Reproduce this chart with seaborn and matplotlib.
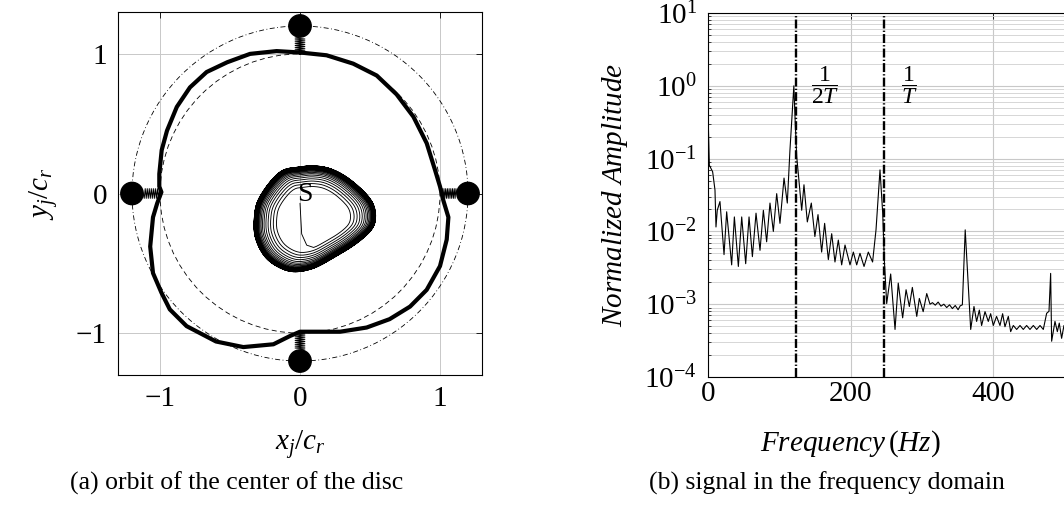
import numpy as np
import pandas as pd
import matplotlib
matplotlib.use("Agg")
import matplotlib.pyplot as plt
import seaborn as sns
from matplotlib.patches import Circle
from matplotlib.ticker import LogLocator, NullFormatter

# ---------------- data: (a) orbit ----------------
orbit_x = [0.0, -0.167, -0.357, -0.52, -0.667, -0.786, -0.88, -0.95, -0.988, -1.005,
           -1.005, -0.99, -1.02, -1.05, -1.07, -1.05, -0.99, -0.93, -0.81, -0.6,
           -0.405, -0.19, -0.07, 0.0, 0.095, 0.286, 0.476, 0.64, 0.786, 0.905,
           1.0, 1.048, 1.06, 1.024, 1.0, 0.964, 0.905, 0.81, 0.69, 0.548,
           0.38, 0.19, 0.0]
orbit_y = [1.01, 1.02, 1.0, 0.94, 0.87, 0.76, 0.62, 0.45, 0.31, 0.14,
           0.05, 0.01, -0.07, -0.17, -0.38, -0.57, -0.71, -0.83, -0.95, -1.06,
           -1.10, -1.08, -1.02, -0.99, -0.99, -0.99, -0.96, -0.90, -0.81, -0.69,
           -0.52, -0.33, -0.17, -0.05, 0.05, 0.17, 0.36, 0.55, 0.71, 0.845,
           0.93, 0.99, 1.01]

# limit cycle of the small orbit (outer contour)
cycle_x = [0.095, 0.24, 0.40, 0.51, 0.54, 0.52, 0.45, 0.33, 0.21, 0.095,
           0.0, -0.12, -0.214, -0.30, -0.326, -0.32, -0.26, -0.167, -0.048]
cycle_y = [-0.536, -0.46, -0.36, -0.26, -0.17, -0.07, 0.02, 0.12, 0.18, 0.198,
           0.19, 0.167, 0.083, -0.05, -0.17, -0.31, -0.44, -0.52, -0.56]
cycle_center = [0.1, -0.18]
ring_scales = [0.58, 0.64, 0.69, 0.735, 0.775, 0.81, 0.84, 0.865, 0.888, 0.908,
               0.925, 0.94, 0.952, 0.962, 0.97, 0.977, 0.983, 0.988, 0.992, 0.995,
               0.997, 0.999, 1.0]
start_x = [0.0, 0.012, 0.048]
start_y = [-0.07, -0.29, -0.37]

outer_radius = 1.2
clearance_radius = 1.0
ball_x = [0.0, 0.0, -1.2, 1.2]
ball_y = [1.2, -1.2, 0.0, 0.0]
ball_r = 0.08
spring_start = [(0.0, 1.12), (0.0, -1.12), (-1.12, 0.0), (1.12, 0.0)]
spring_end = [(0.0, 1.0), (0.0, -1.0), (-0.99, 0.0), (1.01, 0.0)]

# ---------------- data: (b) spectrum ----------------
freq = [0, 1.9, 6.5, 9.8, 11.2, 13.0, 16.8, 22.5, 26.2, 33.2,
        37.0, 42.6, 47.3, 52.9, 57.6, 62.3, 67.4, 73.0, 77.7, 82.3,
        87.0, 91.7, 96.4, 101.0, 106.7, 111.3, 115.0, 120.5, 122.5, 124.5,
        131.5, 134.7, 139.4, 145.0, 150.0, 154.4, 159.5, 163.7, 168.9, 173.6,
        178.2, 182.9, 187.6, 192.3, 199.3, 204.0, 208.7, 213.3, 219.0, 225.0,
        231.0, 235.8, 241.4, 245.2, 247.5, 250.8, 256.4, 262.5, 267.0, 273.2,
        278.0, 282.6, 286.8, 293.0, 296.6, 302.0, 307.0, 311.6, 315, 319,
        323, 327, 331, 335, 339, 343, 347, 351, 354, 357,
        361, 368.7, 373.3, 377, 380.8, 384, 388.8, 393.4, 396.7, 400.4,
        405, 409.8, 413.5, 416.8, 421.5, 424.8, 428.5, 433.2, 437.9, 442.5,
        447.2, 451.9, 456.6, 461.3, 466, 470.6, 475.3, 478.6, 480.9, 482.3,
        487, 490.3, 493, 496.3, 499.6, 503, 507, 512]
amp = [0.43, 0.081, 0.066, 0.037, 0.0115, 0.0195, 0.0257, 0.0048, 0.0186, 0.00347,
       0.0158, 0.0033, 0.0158, 0.0036, 0.0158, 0.0045, 0.0178, 0.0055, 0.0195, 0.0072,
       0.0245, 0.010, 0.033, 0.0129, 0.054, 0.0245, 0.13, 1.0, 0.3, 0.107,
       0.0195, 0.0437, 0.0135, 0.0245, 0.0085, 0.017, 0.0052, 0.0129, 0.0041, 0.0093,
       0.0038, 0.0076, 0.00347, 0.0065, 0.00347, 0.0052, 0.00347, 0.0050, 0.0033, 0.0052,
       0.0038, 0.0105, 0.070, 0.0178, 0.004, 0.00102, 0.0026, 0.00045, 0.00195, 0.00065,
       0.00158, 0.00093, 0.0017, 0.00068, 0.0012, 0.00079, 0.0014, 0.0010, 0.00105, 0.00097,
       0.00107, 0.00094, 0.0010, 0.00090, 0.00098, 0.00087, 0.00096, 0.00084, 0.00095, 0.00098,
       0.0105, 0.00045, 0.00093, 0.00058, 0.00083, 0.00051, 0.00079, 0.00058, 0.00074, 0.00051,
       0.00068, 0.00051, 0.00074, 0.00049, 0.00068, 0.00042, 0.00051, 0.00045, 0.00051, 0.00045,
       0.00051, 0.00045, 0.00051, 0.00045, 0.00051, 0.00045, 0.00075, 0.0008, 0.00265, 0.00031,
       0.00058, 0.00042, 0.00055, 0.00034, 0.00051, 0.0004, 0.00048, 0.00038]
half_period_freq = 123.5
period_freq = 247.0
x_ticks_b = [0, 200, 400]

# ---------------- style ----------------
sns.set_theme(style="white")
plt.rcParams.update({
    "font.family": ["serif"],
    "font.serif": ["Liberation Serif", "DejaVu Serif"],
    "mathtext.fontset": "custom",
    "mathtext.rm": "Liberation Serif",
    "mathtext.it": "Liberation Serif:italic",
    "mathtext.bf": "Liberation Serif:bold",
    "axes.edgecolor": "black",
    "axes.linewidth": 0.8,
    "text.color": "black",
    "axes.labelcolor": "black",
    "xtick.color": "black",
    "ytick.color": "black",
})

W, H = 1064, 512
fig = plt.figure(figsize=(W / 100, H / 100), dpi=100)
TICK_FS = 21
LABEL_FS = 21
CAP_FS = 18.5
GRID_C = "#c8c8c8"

# ---------------- (a) ----------------
ax1 = fig.add_axes([118 / W, 1 - 375 / H, 364 / W, 363 / H])
ax1.set_xlim(-1.3, 1.3)
ax1.set_ylim(-1.3, 1.3)
ax1.set_xticks([-1, 0, 1])
ax1.set_yticks([-1, 0, 1])
ax1.grid(True, color=GRID_C, lw=0.7)
ax1.set_axisbelow(True)

ax1.add_patch(Circle((0, 0), outer_radius, fill=False, ec="black", lw=0.6,
                     ls=(0, (6, 3, 1, 3))))
ax1.add_patch(Circle((0, 0), clearance_radius, fill=False, ec="black", lw=0.6,
                     ls=(0, (6, 4))))


def closed_spline(px, py, n_per=8):
    P = np.column_stack([px, py])
    m = len(P)
    out = []
    for i in range(m):
        p0, p1, p2, p3 = P[i - 1], P[i], P[(i + 1) % m], P[(i + 2) % m]
        for t in np.linspace(0, 1, n_per, endpoint=False):
            t2, t3 = t * t, t * t * t
            out.append(0.5 * ((2 * p1) + (-p0 + p2) * t
                              + (2 * p0 - 5 * p1 + 4 * p2 - p3) * t2
                              + (-p0 + 3 * p1 - 3 * p2 + p3) * t3))
    return np.array(out)


ring = closed_spline(cycle_x, cycle_y)
c = np.array(cycle_center)
pieces = [np.column_stack([start_x, start_y])]
K = len(ring)
for k in range(len(ring_scales) - 1):
    s = np.linspace(ring_scales[k], ring_scales[k + 1], K, endpoint=False)
    pieces.append(c + s[:, None] * (ring - c))
pieces.append(c + ring_scales[-1] * (np.vstack([ring, ring[:1]]) - c))
spiral = np.vstack(pieces)
spiral_df = pd.DataFrame({"x": spiral[:, 0], "y": spiral[:, 1]})
sns.lineplot(data=spiral_df, x="x", y="y", ax=ax1, sort=False, estimator=None,
             color="black", lw=0.65)

orbit_df = pd.DataFrame({"x": orbit_x, "y": orbit_y})
sns.lineplot(data=orbit_df, x="x", y="y", ax=ax1, sort=False, estimator=None,
             color="black", lw=3.0)


def draw_spring(ax, p0, p1, n=9, w=0.035):
    p0, p1 = np.array(p0), np.array(p1)
    d = p1 - p0
    L = np.linalg.norm(d)
    u = d / L
    nrm = np.array([-u[1], u[0]])
    t = np.linspace(0, 1, 2 * n + 1)
    offs = np.array([0.0] + [w * (-1) ** k for k in range(1, 2 * n)] + [0.0])
    pts = p0[None, :] + t[:, None] * d[None, :] + offs[:, None] * nrm[None, :]
    ax.plot(pts[:, 0], pts[:, 1], color="black", lw=0.7)


for p0, p1 in zip(spring_start, spring_end):
    draw_spring(ax1, p0, p1)
for bx, by in zip(ball_x, ball_y):
    ax1.add_patch(Circle((bx, by), ball_r, color="black", zorder=5))

ax1.text(0.035, -0.01, "S", fontsize=20, ha="center", va="center")

ax1.tick_params(axis="both", which="major", direction="in", length=4,
                top=True, right=True, labelsize=TICK_FS, pad=8, width=0.6)
ax1.set_xlabel(r"$x_j/c_r$", fontsize=LABEL_FS)
ax1.set_ylabel(r"$y_j/c_r$", fontsize=LABEL_FS)
ax1.xaxis.set_label_coords(0.5, -0.145)
ax1.yaxis.set_label_coords(-0.16, 0.5)
for sp in ax1.spines.values():
    sp.set_color("black")

# ---------------- (b) ----------------
ax2 = fig.add_axes([708 / W, 1 - 377 / H, 364.8 / W, 364 / H])
spec_df = pd.DataFrame({"f": freq, "a": amp})
sns.lineplot(data=spec_df, x="f", y="a", ax=ax2, sort=False, estimator=None,
             color="black", lw=0.8)
ax2.set_yscale("log")
ax2.set_ylim(1e-4, 1e1)
ax2.set_xlim(0, 512)
ax2.set_xticks(x_ticks_b)
ax2.yaxis.set_major_locator(LogLocator(base=10, numticks=20))
ax2.yaxis.set_minor_locator(LogLocator(base=10, subs=np.arange(2, 10), numticks=100))
ax2.yaxis.set_minor_formatter(NullFormatter())
ax2.grid(True, which="major", color=GRID_C, lw=0.8)
ax2.grid(True, which="minor", axis="y", color="#d0d0d0", lw=0.6)
ax2.set_axisbelow(True)

dash_dot = (0, (3.8, 0.9, 0.55, 0.9))
ax2.axvline(half_period_freq, color="black", lw=1.7, ls=dash_dot)
ax2.axvline(period_freq, color="black", lw=1.7, ls=dash_dot)
ax2.text(164, 1.0, r"$\dfrac{1}{2T}$", fontsize=17, ha="center", va="center")
ax2.text(283, 1.0, r"$\dfrac{1}{T}$", fontsize=17, ha="center", va="center")

ax2.tick_params(axis="both", which="major", direction="in", length=4,
                top=True, right=True, labelsize=TICK_FS, width=0.6)
ax2.tick_params(axis="x", which="major", pad=3)
ax2.tick_params(axis="y", which="major", pad=8)
ax2.tick_params(axis="y", which="minor", direction="in", length=2.5,
                left=True, right=True, width=0.5)
ax2.set_xlabel(r"$Frequency\,(Hz)$", fontsize=LABEL_FS)
ax2.set_ylabel(r"$Normalized\ Amplitude$", fontsize=LABEL_FS)
ax2.xaxis.set_label_coords(0.39, -0.14)
ax2.yaxis.set_label_coords(-0.215, 0.5)
for sp in ax2.spines.values():
    sp.set_color("black")

# ---------------- captions ----------------
fig.text(237 / W, 1 - 483 / H, "(a) orbit of the center of the disc",
         fontsize=CAP_FS, ha="center", va="center")
fig.text(827 / W, 1 - 483 / H, "(b) signal in the frequency domain",
         fontsize=CAP_FS, ha="center", va="center")

fig.savefig("out.png", dpi=100)
